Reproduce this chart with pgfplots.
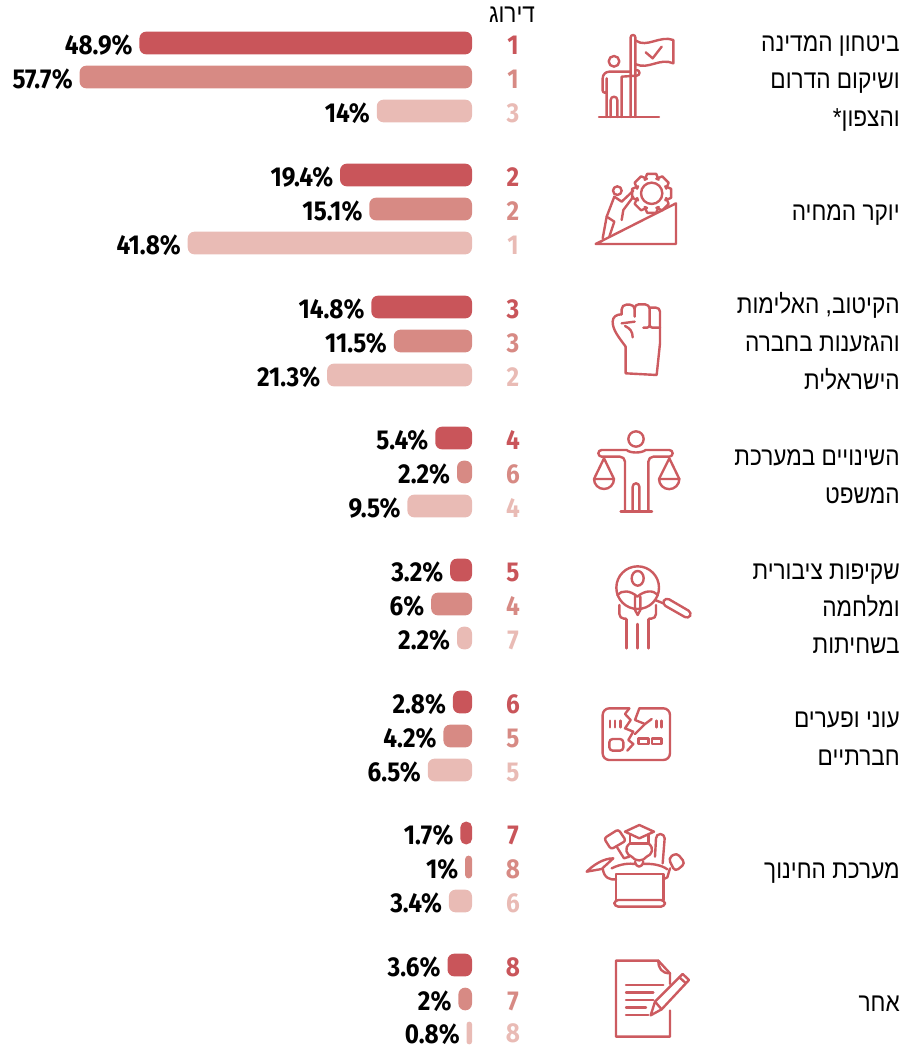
\documentclass[border=0pt]{standalone}
\usepackage{fontspec}
\usepackage{pgfplots}
\pgfplotsset{compat=1.18}
\TeXXeTstate=1
\setmainfont{Fira Sans}
\newfontfamily\valf[FakeStretch=0.89]{Fira Sans}
\newfontfamily\heb[Script=Hebrew,FakeStretch=0.87]{Liberation Sans}
\definecolor{cA}{HTML}{C9555A}
\definecolor{cB}{HTML}{D78A84}
\definecolor{cC}{HTML}{E9BBB5}
\definecolor{ic}{HTML}{CC5B60}
\newcommand\hf{\heb\fontsize{19.5pt}{22pt}\selectfont}
\pgfplotsset{
  ser/.style={fill=#1,draw=none,xbar,bar shift=0pt,bar width=17pt,rounded corners=5pt,
    point meta=x,
    nodes near coords={\pgfmathprintnumber[fixed,precision=1]{\pgfplotspointmeta}\%},
    every node near coord/.append style={font=\valf\fontsize{20.5pt}{22pt}\bfseries\selectfont,text=black,anchor=east,inner sep=5pt,yshift=-2pt}},
  rk/.style={draw=none,mark=none,point meta=explicit symbolic,
    nodes near coords,
    every node near coord/.append style={font=\valf\fontsize{20.5pt}{22pt}\bfseries\selectfont,text=#1,anchor=center,inner sep=0pt}},
}
\begin{document}
\begin{tikzpicture}
\useasboundingbox (0,0) rectangle (681.75pt,784.5pt);
\begin{axis}[at={(0,0)},anchor=south west,scale only axis,width=681.75pt,height=784.5pt,
  axis lines=none,x dir=reverse,y dir=reverse,
  xmin=-64.26,xmax=69.41,ymin=0,ymax=1046,clip=false,
  /pgf/number format/assume math mode=true]
\addplot[ser=cA] coordinates {(48.9,43)(19.4,175)(14.8,307)(5.4,438)(3.2,570)(2.8,702)(3.6,965)};
\addplot[ser=cA,rounded corners=4pt] coordinates {(1.7,833)};
\addplot[ser=cB] coordinates {(57.7,77)(15.1,209)(11.5,341)(2.2,472)(6,604)(4.2,736)(2,999)};
\addplot[ser=cB,rounded corners=2.4pt] coordinates {(1,867)};
\addplot[ser=cC] coordinates {(14,111)(41.8,243)(21.3,375)(9.5,506)(2.2,638)(6.5,770)(3.4,901)};
\addplot[ser=cC,rounded corners=1.9pt,every node near coord/.append style={yshift=0.8pt}] coordinates {(0.8,1033)};
\addplot[rk=cA] coordinates {(-6.03,45)[1](-6.03,177)[2](-6.03,309)[3](-6.03,440)[4](-6.03,572)[5](-6.03,704)[6](-6.03,835)[7](-6.03,967)[8]};
\addplot[rk=cB] coordinates {(-6.03,79)[1](-6.03,211)[2](-6.03,343)[3](-6.03,474)[6](-6.03,606)[4](-6.03,738)[5](-6.03,869)[8](-6.03,1001)[7]};
\addplot[rk=cC] coordinates {(-6.03,113)[3](-6.03,245)[1](-6.03,377)[2](-6.03,508)[4](-6.03,640)[7](-6.03,772)[5](-6.03,903)[6](-6.03,1033)[8]};
\end{axis}
% pixel-coordinate scope for text
\begin{scope}[shift={(0,784.5pt)},x=0.75pt,y=-0.75pt,every node/.style={anchor=base east,inner sep=0pt,font=\hf}]
\node at (900,52) {\beginR ביטחון המדינה\endR};
\node at (900,89) {\beginR ושיקום הדרום\endR};
\node at (900,127) {\beginR והצפון*\endR};
\node at (900,221) {\beginR יוקר המחיה\endR};
\node at (900,314) {\beginR הקיטוב, האלימות\endR};
\node at (900,352) {\beginR והגזענות בחברה\endR};
\node at (900,390) {\beginR הישראלית\endR};
\node at (900,466) {\beginR השינויים במערכת\endR};
\node at (900,504) {\beginR המשפט\endR};
\node at (900,580) {\beginR שקיפות ציבורית\endR};
\node at (900,617) {\beginR ומלחמה\endR};
\node at (900,654) {\beginR בשחיתות\endR};
\node at (900,728) {\beginR עוני ופערים\endR};
\node at (900,766) {\beginR חברתיים\endR};
\node at (900,879) {\beginR מערכת החינוך\endR};
\node at (900,1012) {\beginR אחר\endR};
\node[anchor=base] at (512,23) {\beginR דירוג\endR};
\end{scope}
% icons, in 3x zoom coordinates
\tikzset{ico/.style={draw=ic,line width=1.8pt,line cap=round,line join=round,x=0.25pt,y=-0.25pt}}
\begin{scope}[shift={(435pt,769.5pt)},ico]
\draw (57,291)--(237,291);
\draw (152,291)--(152,52) arc (-180:0:7)--(166,291);
\draw (168,62) .. controls (200,85) and (240,45) .. (280,60)--(280,130) .. controls (240,112) and (205,150) .. (168,133);
\draw (197,97)--(218,115)--(245,80);
\draw (102,124) circle (16);
\draw (150,155)--(88,155) arc (-90:-180:20)--(68,212) arc (180:0:6)--(80,175)--(80,291);
\draw (125,291)--(125,170)--(170,167) arc (90:-90:8.5);
\draw (92,291)--(92,240) arc (180:360:10)--(112,291);
\end{scope}
\begin{scope}[shift={(435pt,769.5pt)},ico]
\draw (47,672)--(288,672)--(288,550)--cycle;
\draw (215,520) circle (32);
\foreach \a in {0,45,...,315}{
  \draw ([shift={(\a-27:46)}]215,520)--([shift={(\a-13:60)}]215,520)--([shift={(\a+13:60)}]215,520)--([shift={(\a+27:46)}]215,520)--([shift={(\a+18:46)}]215,520);
}
\draw (112,512) circle (13);
\draw (160,512)--(125,545)--(103,530)--(80,590)--(103,605)--(88,650);
\draw (160,530)--(130,570)--(125,600);
\draw (80,590)--(68,655);
\end{scope}
\begin{scope}[shift={(435pt,574.5pt)},ico]
\draw (137,200)--(137,280)--(230,285)--(240,190)--(240,95) arc (0:-90:12)--(210,83);
\draw (137,200) .. controls (115,170) and (98,150) .. (98,125) .. controls (98,110) and (110,103) .. (125,103);
\draw (125,103)--(125,88) arc (180:270:14)--(150,74) arc (-90:0:14)--(164,110);
\draw (164,85) arc (180:270:12)--(195,73) arc (-90:0:14)--(209,135) arc (0:90:8)--(190,143);
\draw (209,135) arc (180:90:8)--(240,143);
\draw (125,130)--(164,125);
\draw (135,138) .. controls (150,145) and (158,155) .. (158,172);
\end{scope}
\begin{scope}[shift={(435pt,574.5pt)},ico]
\draw (168,477) circle (23);
\draw (135,695)--(135,545) arc (0:-90:15)--(65,530) arc (90:270:10)--(140,510) .. controls (150,520) and (185,520) .. (197,510)--(268,510) arc (-90:90:10)--(220,530) arc (-90:-180:15)--(205,695);
\draw (122,695)--(216,695);
\draw (158,695)--(158,620) arc (180:360:10)--(178,695);
\draw (42,597)--(72,535)--(102,597);
\draw (42,597)--(102,597) arc (0:180:30);
\draw (237,597)--(268,535)--(298,597);
\draw (237,597)--(298,597) arc (0:180:30.5);
\end{scope}
\begin{scope}[shift={(435pt,379.5pt)},ico]
\draw (173,143) circle (64);
\draw (173,115) ellipse (18 and 22);
\draw (225,180)--(250,190);
\draw[rounded corners=3pt] (257,172)--(336,218)--(325,237)--(246,192)--cycle;
\draw (140,325)--(140,238);
\draw (172,325)--(172,252);
\draw (205,325)--(205,238);
\draw (118,195)--(118,222) arc (180:90:14)--(138,236);
\draw (228,195)--(228,222) arc (0:90:14)--(207,236);
\draw (112,165) .. controls (125,150) and (150,150) .. (172,170) .. controls (195,150) and (220,150) .. (234,165);
\draw (165,170)--(165,210)--(173,225)--(181,210)--(181,170);
\end{scope}
\begin{scope}[shift={(435pt,379.5pt)},ico]
\draw (148,505)--(88,505) arc (-90:-180:20)--(68,640) arc (180:90:20)--(250,660) arc (90:0:20)--(270,525) arc (0:-90:20)--(178,505);
\draw (148,505)--(135,522)--(152,540)--(135,565)--(160,575)--(145,600)--(160,612)--(142,632);
\draw (178,505)--(165,540)--(195,552)--(215,537);
\draw (195,552)--(165,582);
\foreach \xx in {90,105,122}{\draw (\xx,542)--(\xx,562);}
\foreach \xx in {230,245}{\draw (\xx,542)--(\xx,562);}
\draw[rounded corners=2.5pt] (88,597) rectangle (130,632);
\draw (176,596) rectangle (205,612);
\draw (216,596) rectangle (245,612);
\end{scope}
\begin{scope}[shift={(435pt,184.5pt)},ico]
\draw (108,300)--(108,222)--(250,222)--(250,300);
\draw[rounded corners=3pt] (103,300) rectangle (255,320);
\draw (135,95)--(178,75)--(222,95)--(178,115)--cycle;
\draw (150,105)--(150,130)--(205,130)--(205,105);
\draw (150,130) .. controls (130,145) and (140,165) .. (155,170) .. controls (165,185) and (190,185) .. (200,170) .. controls (215,165) and (225,145) .. (205,130);
\draw (165,185) .. controls (170,205) and (185,205) .. (190,185);
\draw (95,205) .. controls (125,190) and (150,190) .. (165,192);
\draw (190,192) .. controls (215,190) and (245,195) .. (262,208);
\draw[rounded corners=2pt] (72,115)--(115,88)--(138,122)--(93,148)--cycle;
\draw (110,140)--(132,175)--(148,170);
\draw (20,215) .. controls (40,195) and (70,175) .. (100,175)--(65,207)--cycle;
\draw (68,205) .. controls (72,235) and (90,240) .. (108,238);
\draw (225,170)--(228,115) arc (180:360:13)--(248,190);
\draw[rounded corners=3pt] (265,175)--(290,158)--(316,190)--(285,215)--cycle;
\draw (270,205)--(262,232)--(250,238);
\end{scope}
\begin{scope}[shift={(435pt,184.5pt)},ico]
\draw (270,632)--(270,710)--(108,710)--(108,482)--(235,482)--(270,520)--(270,552);
\draw (235,482) .. controls (235,505) and (245,520) .. (270,520);
\draw (138,555)--(250,555);
\draw (138,578)--(220,578);
\draw (138,600)--(220,600);
\draw (138,622)--(198,622);
\draw (138,645)--(205,645);
\draw (212,646)--(225,605)--(308,522)--(327,540)--(245,628)--cycle;
\draw (225,605)--(245,628);
\draw (298,532)--(318,550);
\end{scope}
\end{tikzpicture}
\end{document}
